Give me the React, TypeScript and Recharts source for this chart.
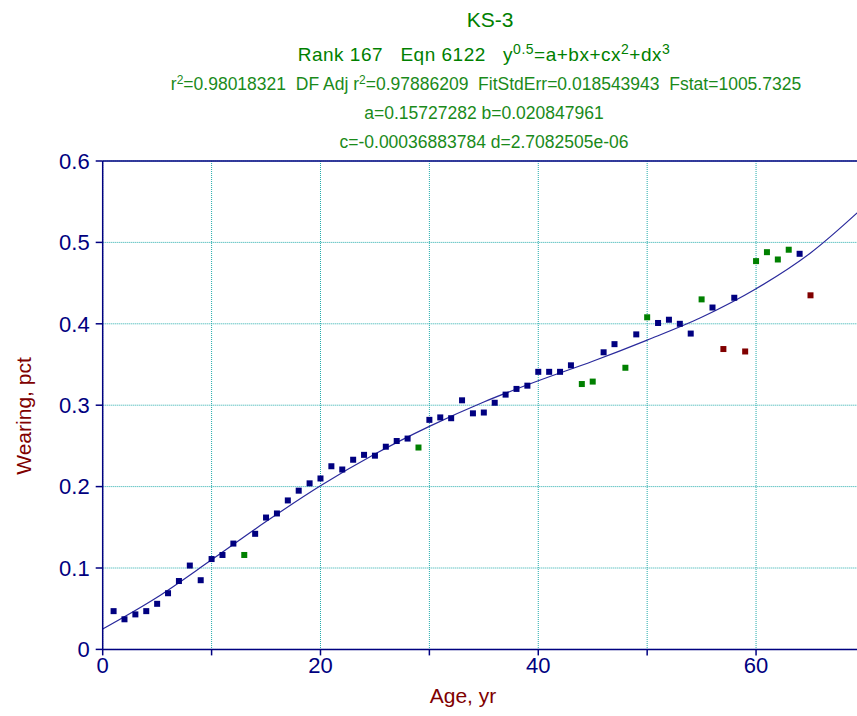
import {
  ComposedChart,
  Scatter,
  Line,
  XAxis,
  YAxis,
  CartesianGrid,
  ReferenceLine,
} from "recharts";

// age in years, one sample per year
const ages = [
  1, 2, 3, 4, 5, 6, 7, 8, 9, 10, 11, 12, 13, 14, 15, 16, 17, 18, 19, 20, 21,
  22, 23, 24, 25, 26, 27, 28, 29, 30, 31, 32, 33, 34, 35, 36, 37, 38, 39, 40,
  41, 42, 43, 44, 45, 46, 47, 48, 49, 50, 51, 52, 53, 54, 55, 56, 57, 58, 59,
  60, 61, 62, 63, 64, 65,
];

const wearing = [
  0.047, 0.037, 0.043, 0.047, 0.056, 0.069, 0.084, 0.103, 0.085, 0.111, 0.116,
  0.13, 0.116, 0.142, 0.162, 0.167, 0.183, 0.195, 0.204, 0.21, 0.225, 0.221,
  0.233, 0.239, 0.238, 0.249, 0.256, 0.259, 0.248, 0.282, 0.285, 0.284, 0.306,
  0.29, 0.291, 0.303, 0.313, 0.32, 0.324, 0.341, 0.341, 0.341, 0.349, 0.326,
  0.329, 0.365, 0.375, 0.346, 0.387, 0.408, 0.401, 0.405, 0.4, 0.388, 0.43,
  0.42, 0.369, 0.432, 0.366, 0.477, 0.488, 0.479, 0.491, 0.486, 0.435,
];

// b = within fit band, g = outside 1 sd, r = outside 2 sd
const group = [
  "b", "b", "b", "b", "b", "b", "b", "b", "b", "b", "b", "b", "g", "b", "b",
  "b", "b", "b", "b", "b", "b", "b", "b", "b", "b", "b", "b", "b", "g", "b",
  "b", "b", "b", "b", "b", "b", "b", "b", "b", "b", "b", "b", "b", "g", "g",
  "b", "b", "g", "b", "g", "b", "b", "b", "b", "g", "b", "r", "b", "r", "g",
  "g", "g", "g", "b", "r",
];

// fitted curve read at 5 yr steps
const fitAges = [0, 5, 10, 15, 20, 25, 30, 35, 40, 45, 50, 55, 60, 65, 70];
const fitValues = [
  0.025, 0.064, 0.11, 0.157, 0.201, 0.24, 0.274, 0.304, 0.33, 0.354, 0.38,
  0.408, 0.443, 0.487, 0.545,
];

const xTicks = [0, 10, 20, 30, 40, 50, 60];
const yTicks = [0, 0.1, 0.2, 0.3, 0.4, 0.5, 0.6];

const colors: Record<string, string> = {
  b: "#000080",
  g: "#008000",
  r: "#800000",
};

const points = ages.map((x, i) => ({ x, y: wearing[i], g: group[i] }));
const fitData = fitAges.map((x, i) => ({ x, y: fitValues[i] }));

const FONT = "'Liberation Sans', Arial, sans-serif";
const SP = "\u00a0\u00a0\u00a0";

const square = (color: string) => (props: any) => (
  <rect x={props.cx - 3} y={props.cy - 3} width={6} height={6} fill={color} />
);

export default function App() {
  return (
    <div style={{ position: "absolute", left: 0, top: 0, width: 857, height: 716, background: "#fff" }}>
      <ComposedChart
        width={857}
        height={716}
        margin={{ top: 161, right: 0, bottom: 0, left: 0 }}
      >
        <CartesianGrid
          stroke="#22abab"
          strokeDasharray="1 1"
          horizontalValues={yTicks}
          verticalValues={xTicks}
        />
        <XAxis
          type="number"
          dataKey="x"
          domain={[0, 69.27]}
          ticks={xTicks}
          allowDataOverflow
          height={66.6}
          stroke="#000080"
          strokeWidth={1.5}
          tickSize={6}
          tickMargin={2}
          tickFormatter={(v: number) => (v % 20 === 0 ? String(v) : "")}
          tick={{ fill: "#000080", fontSize: 22, fontFamily: FONT }}
        />
        <YAxis
          type="number"
          dataKey="y"
          domain={[0, 0.6]}
          ticks={yTicks}
          allowDataOverflow
          width={102.7}
          stroke="#000080"
          strokeWidth={1.5}
          tickSize={7}
          tickMargin={6}
          tickFormatter={(v: number) => (v === 0 ? "0" : v.toFixed(1))}
          tick={{ fill: "#000080", fontSize: 22, fontFamily: FONT }}
        />
        <ReferenceLine y={0.6} stroke="#000080" strokeWidth={1.5} />
        <Line
          data={fitData}
          dataKey="y"
          type="monotone"
          stroke="#2a2a9c"
          strokeWidth={1.2}
          dot={false}
          isAnimationActive={false}
        />
        {(["b", "g", "r"] as const).map((k) => (
          <Scatter
            key={k}
            data={points.filter((p) => p.g === k)}
            dataKey="y"
            shape={square(colors[k])}
            isAnimationActive={false}
          />
        ))}
      </ComposedChart>
      <svg
        width={857}
        height={716}
        style={{ position: "absolute", left: 0, top: 0, pointerEvents: "none" }}
        fontFamily={FONT}
      >
        <text x={490} y={27} textAnchor="middle" fontSize={21} fill="#008000">
          KS-3
        </text>
        <text x={484} y={61} textAnchor="middle" fontSize={19} letterSpacing={0.5} fill="#008000">
          Rank 167{SP}Eqn 6122{SP}y
          <tspan dy={-7} fontSize={14}>0.5</tspan>
          <tspan dy={7}>=a+bx+cx</tspan>
          <tspan dy={-7} fontSize={14}>2</tspan>
          <tspan dy={7}>+dx</tspan>
          <tspan dy={-7} fontSize={14}>3</tspan>
        </text>
        <text x={486} y={90} textAnchor="middle" fontSize={17.5} fill="#1a8a1a">
          r<tspan dy={-6} fontSize={12}>2</tspan>
          <tspan dy={6}>=0.98018321{"\u00a0\u00a0"}DF Adj r</tspan>
          <tspan dy={-6} fontSize={12}>2</tspan>
          <tspan dy={6}>
            =0.97886209{"\u00a0\u00a0"}FitStdErr=0.018543943{"\u00a0\u00a0"}Fstat=1005.7325
          </tspan>
        </text>
        <text x={484} y={119} textAnchor="middle" fontSize={17.5} fill="#1a8a1a">
          a=0.15727282 b=0.020847961
        </text>
        <text x={484} y={148} textAnchor="middle" fontSize={17.5} fill="#1a8a1a">
          c=-0.00036883784 d=2.7082505e-06
        </text>
        <text x={463} y={703} textAnchor="middle" fontSize={21} fill="#800000">
          Age, yr
        </text>
        <text
          x={0}
          y={0}
          transform="translate(31 416) rotate(-90)"
          textAnchor="middle"
          fontSize={21}
          fill="#800000"
        >
          Wearing, pct
        </text>
      </svg>
    </div>
  );
}
